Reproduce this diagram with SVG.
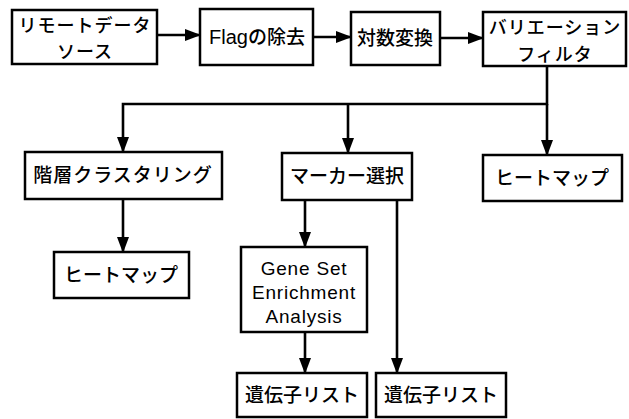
<svg xmlns="http://www.w3.org/2000/svg" width="629" height="419" viewBox="0 0 629 419">
  <defs>
    <marker id="arrow" markerUnits="userSpaceOnUse" markerWidth="16" markerHeight="12" refX="15" refY="6" orient="auto">
      <path d="M0,0 L16,6 L0,12 Z" fill="#000"/>
    </marker>
    <style>
      .box { fill: #fff; stroke: #000; stroke-width: 2.5; }
      .jp { font-family: "Noto Sans CJK JP", "Liberation Sans", sans-serif; font-size: 19px; fill: #000; text-anchor: middle; font-weight: 500; }
      .jp2 { font-size: 18px; }
      .en { font-family: "Liberation Sans", Arial, sans-serif; font-size: 18px; fill: #000; text-anchor: middle; }
      .gsea { font-size: 19px; letter-spacing: 0.8px; }
      .link { fill: none; stroke: #000; stroke-width: 2.6; }
    </style>
  </defs>
  <rect width="629" height="419" fill="#fff"/>

  <g id="connectors">
    <path class="link" d="M157,35 H200" marker-end="url(#arrow)"/>
    <path class="link" d="M313,37 H351" marker-end="url(#arrow)"/>
    <path class="link" d="M440,38 H483" marker-end="url(#arrow)"/>
    <path class="link" d="M547,66 V104 H123 V152" marker-end="url(#arrow)"/>
    <path class="link" d="M348,104 V153" marker-end="url(#arrow)"/>
    <path class="link" d="M547,104 V155" marker-end="url(#arrow)"/>
    <path class="link" d="M123,199 V252" marker-end="url(#arrow)"/>
    <path class="link" d="M305,200 V247" marker-end="url(#arrow)"/>
    <path class="link" d="M397,200 V373" marker-end="url(#arrow)"/>
    <path class="link" d="M305,332 V373" marker-end="url(#arrow)"/>
  </g>

  <g id="remote-source">
    <rect class="box" x="12" y="10" width="145" height="54"/>
    <text class="jp jp2" x="85" y="32" letter-spacing="1">リモートデータ</text>
    <text class="jp jp2" x="85" y="58" letter-spacing="1">ソース</text>
  </g>
  <g id="flag-removal">
    <rect class="box" x="200" y="9" width="113" height="56"/>
    <text class="en" x="257" y="44"><tspan style="font-size:20px">Flag</tspan><tspan class="jp" style="font-size:19px">の除去</tspan></text>
  </g>
  <g id="log-transform">
    <rect class="box" x="351" y="12" width="89" height="53"/>
    <text class="jp" x="395" y="45">対数変換</text>
  </g>
  <g id="variation-filter">
    <rect class="box" x="483" y="12" width="143" height="54"/>
    <text class="jp jp2" x="555" y="34" letter-spacing="1">バリエーション</text>
    <text class="jp jp2" x="555" y="61" letter-spacing="1">フィルタ</text>
  </g>
  <g id="hier-clustering">
    <rect class="box" x="25" y="152" width="197" height="47"/>
    <text class="jp" x="123" y="182" letter-spacing="1">階層クラスタリング</text>
  </g>
  <g id="marker-select">
    <rect class="box" x="282" y="153" width="130" height="47"/>
    <text class="jp" x="347" y="183">マーカー選択</text>
  </g>
  <g id="heatmap-right">
    <rect class="box" x="483" y="155" width="139" height="46"/>
    <text class="jp" x="552" y="185">ヒートマップ</text>
  </g>
  <g id="heatmap-left">
    <rect class="box" x="54" y="252" width="135" height="46"/>
    <text class="jp" x="121" y="282">ヒートマップ</text>
  </g>
  <g id="gsea">
    <rect class="box" x="241" y="247" width="126" height="85"/>
    <text class="en gsea" x="304" y="275">Gene Set</text>
    <text class="en gsea" x="304" y="299">Enrichment</text>
    <text class="en gsea" x="304" y="323">Analysis</text>
  </g>
  <g id="gene-list-1">
    <rect class="box" x="237" y="373" width="130" height="44"/>
    <text class="jp" x="302" y="402">遺伝子リスト</text>
  </g>
  <g id="gene-list-2">
    <rect class="box" x="376" y="373" width="130" height="44"/>
    <text class="jp" x="441" y="402">遺伝子リスト</text>
  </g>
</svg>
